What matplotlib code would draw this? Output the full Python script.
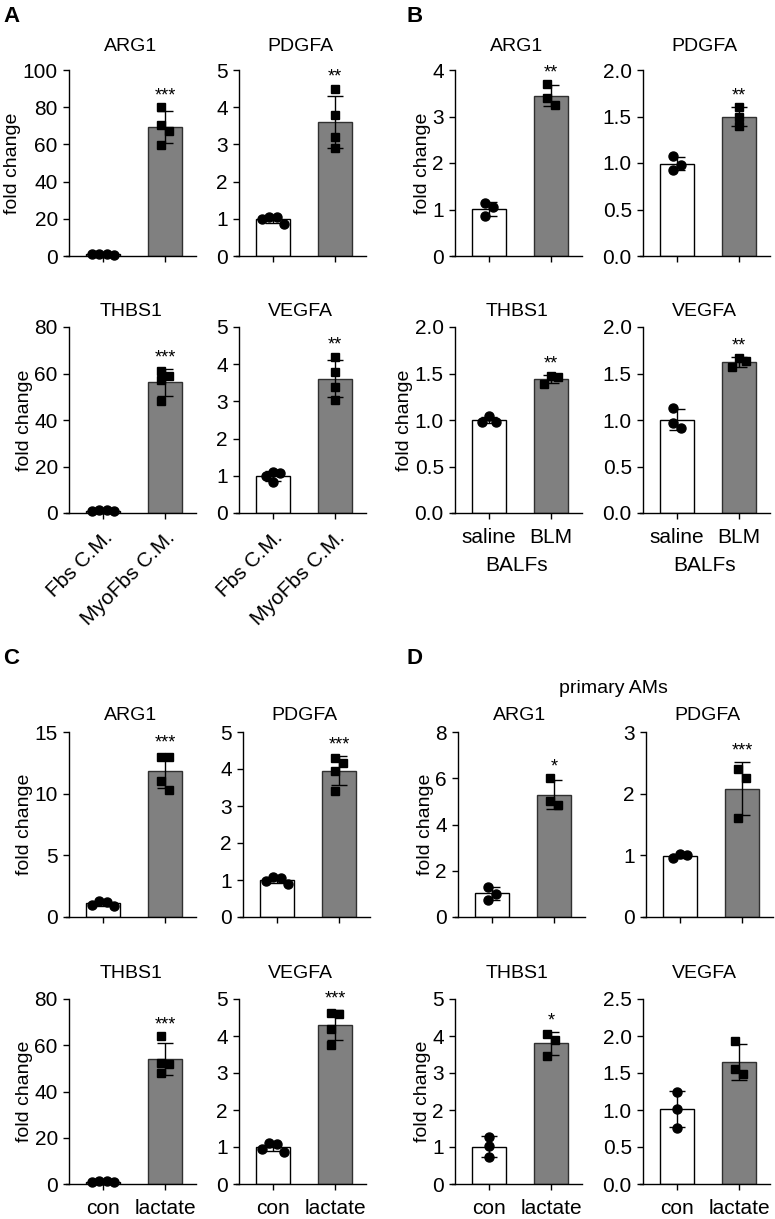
import numpy as np
import matplotlib
matplotlib.use('Agg')
from matplotlib import pyplot as plt
from matplotlib.ticker import FormatStrFormatter

plt.rcParams['font.family'] = ['Liberation Sans', 'DejaVu Sans']

# ---- data ----
genes = ['ARG1', 'PDGFA', 'THBS1', 'VEGFA']

A_groups = ['Fbs C.M.', 'MyoFbs C.M.']
A_ctrl = [[1.1, 0.8, 0.9, 1.2], [1.05, 0.85, 1.0, 1.05],
          [1.1, 0.9, 0.8, 1.2], [1.08, 0.82, 1.0, 1.1]]
A_trt = [[80, 70.5, 67, 59.5], [4.5, 3.8, 3.2, 2.9],
         [59, 57, 61, 48], [4.2, 3.8, 3.4, 3.05]]
A_stars = ['***', '**', '***', '**']
A_ymax = [100, 5, 80, 5]
A_ystep = [20, 1, 20, 1]

B_groups = ['saline', 'BLM']
B_ctrl = [[1.15, 0.85, 1.05], [1.07, 0.93, 0.98],
          [1.04, 0.98, 0.98], [1.13, 0.91, 0.97]]
B_trt = [[3.7, 3.25, 3.4], [1.6, 1.4, 1.5],
         [1.47, 1.39, 1.46], [1.67, 1.57, 1.63]]
B_stars = ['**', '**', '**', '**']
B_ymax = [4, 2.0, 2.0, 2.0]
B_ystep = [1, 0.5, 0.5, 0.5]

C_groups = ['con', 'lactate']
C_ctrl = [[1.2, 0.9, 1.0, 1.3], [1.05, 0.88, 0.98, 1.07],
          [1.1, 0.9, 0.8, 1.2], [1.08, 0.86, 0.95, 1.1]]
C_trt = [[13, 13, 10.3, 11], [4.3, 4.15, 3.95, 3.4],
         [64, 52.5, 48, 52], [4.6, 4.62, 4.2, 3.75]]
C_stars = ['***', '***', '***', '***']
C_ymax = [15, 5, 80, 5]
C_ystep = [5, 1, 20, 1]

D_groups = ['con', 'lactate']
D_ctrl = [[1.3, 0.75, 1.0], [1.02, 0.96, 1.0],
          [1.28, 0.73, 1.03], [1.25, 1.02, 0.76]]
D_trt = [[6.0, 4.85, 5.0], [2.4, 2.25, 1.6],
         [4.05, 3.9, 3.45], [1.93, 1.48, 1.55]]
D_stars = ['*', '***', '*', '']
D_ymax = [8, 3, 5, 2.5]
D_ystep = [2, 1, 1, 0.5]

# ---- layout (pixels) ----
W, H = 775, 1219
fig = plt.figure(figsize=(W / 100, H / 100), dpi=100)
rows_px = [(70, 256), (327, 513), (732, 917), (999, 1184)]
title_pad = [14, 8, 8.6, 15]
unit = 62


def spread(vals, ymax):
    # shift overlapping points sideways, like a scatter dot plot
    thr = 0.05 * ymax
    d = 0.12
    slots = [0, d, -d, 2 * d, -2 * d, 3 * d]
    placed = []
    offs = np.zeros(len(vals))
    for i in np.argsort(vals)[::-1]:
        near = [o for v, o in placed if abs(v - vals[i]) < thr]
        for s in slots:
            if all(abs(s - o) > d * 0.9 for o in near):
                offs[i] = s
                break
        placed.append((vals[i], offs[i]))
    return offs - (offs.max() + offs.min()) / 2 if len(set(offs)) > 1 else offs


def draw(cx, row, ctrl, trt, ymax, ystep, star, title, ylabel, xlabels, rot=False, xlabel=None):
    top, bot = rows_px[row]
    left = cx - 0.6 * unit
    ax = fig.add_axes([left / W, 1 - bot / H, 2.1 * unit / W, (bot - top) / H])
    ctrl = np.array(ctrl, float)
    trt = np.array(trt, float)
    means = [ctrl.mean(), trt.mean()]
    sds = [ctrl.std(ddof=1), trt.std(ddof=1)]
    ax.bar([0, 1], means, width=0.56, color=['white', '#808080'],
           edgecolor=['black', '#303030'], linewidth=1, zorder=1)
    ax.errorbar([0, 1], means, yerr=sds, fmt='none', ecolor='black',
                elinewidth=1, capsize=6, capthick=1, zorder=2)
    ax.plot(0 + spread(ctrl, ymax), ctrl, 'o', color='black', ms=6.5, zorder=3, clip_on=False)
    ax.plot(1 + spread(trt, ymax), trt, 's', color='black', ms=6, zorder=3, clip_on=False)
    if star:
        ax.annotate(star, xy=(1, max(means[1] + sds[1], trt.max())), xytext=(0, 2),
                    textcoords='offset points', ha='center', va='bottom', fontsize=13)
    ax.set_xlim(-0.6, 1.5)
    ax.set_ylim(0, ymax)
    ax.set_yticks(np.arange(0, ymax + ystep / 2, ystep))
    if ystep < 1:
        ax.yaxis.set_major_formatter(FormatStrFormatter('%.1f'))
    ax.spines['top'].set_visible(False)
    ax.spines['right'].set_visible(False)
    ax.spines['left'].set_position(('data', -0.55))
    for sp in ['left', 'bottom']:
        ax.spines[sp].set_linewidth(1)
    ax.tick_params(direction='out', length=4.5, width=1, labelsize=15)
    ax.tick_params(axis='x', pad=6)
    ax.set_xticks([0, 1])
    if xlabels:
        if rot:
            ax.set_xticklabels(xlabels, rotation=45, ha='right', rotation_mode='anchor')
        else:
            ax.set_xticklabels(xlabels)
    else:
        ax.set_xticklabels([])
    if xlabel:
        ax.set_xlabel(xlabel, fontsize=15, labelpad=7)
    ax.set_title(title, fontsize=14, pad=title_pad[row])
    if ylabel:
        ax.set_ylabel('fold change', fontsize=14, labelpad=1)
    return ax


panels = [
    (A_ctrl, A_trt, A_stars, A_ymax, A_ystep, A_groups, [103, 273, 103, 273], 0, True, None),
    (B_ctrl, B_trt, B_stars, B_ymax, B_ystep, B_groups, [489, 677, 489, 677], 0, False, 'BALFs'),
    (C_ctrl, C_trt, C_stars, C_ymax, C_ystep, C_groups, [103, 277, 103, 273], 2, False, None),
    (D_ctrl, D_trt, D_stars, D_ymax, D_ystep, D_groups, [492, 680, 489, 677], 2, False, None),
]

for ctrl, trt, stars, ymax, ystep, groups, cxs, row0, rot, xl in panels:
    for g in range(4):
        row = row0 + g // 2
        bottom = g >= 2
        draw(cxs[g], row, ctrl[g], trt[g], ymax[g], ystep[g], stars[g], genes[g],
             g % 2 == 0, groups if bottom else None, rot, xl if bottom else None)

for letter, x, y in [('A', 3, 6), ('B', 407, 6), ('C', 3, 648), ('D', 407, 648)]:
    fig.text(x / W, 1 - y / H, letter, fontsize=16, fontweight='bold', va='top')
fig.text(613 / W, 1 - 693 / H, 'primary AMs', fontsize=14, ha='center', va='baseline')

fig.savefig('out.png', dpi=100)
